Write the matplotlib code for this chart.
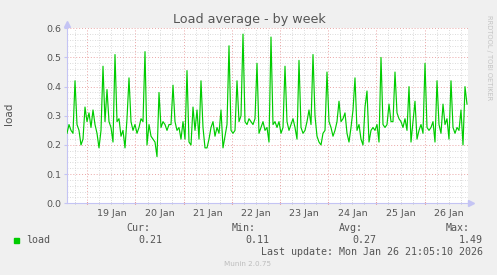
import matplotlib
matplotlib.use("Agg")
import matplotlib.pyplot as plt
import matplotlib.dates as mdates
import numpy as np
from datetime import datetime, timedelta

# ---- data (hourly load average) ----
load = [
    0.24, 0.27, 0.25, 0.24, 0.42, 0.27, 0.25, 0.20, 0.22, 0.33,
    0.28, 0.31, 0.26, 0.32, 0.27, 0.24, 0.19, 0.25, 0.47, 0.28,
    0.39, 0.28, 0.26, 0.21, 0.51, 0.28, 0.29, 0.23, 0.25,
    0.19, 0.29, 0.43, 0.28, 0.25, 0.27, 0.24, 0.26, 0.29, 0.28,
    0.52, 0.20, 0.27, 0.23, 0.22, 0.21, 0.16, 0.38, 0.26, 0.28,
    0.27, 0.25, 0.27, 0.27, 0.405, 0.28, 0.25, 0.26, 0.22,
    0.28, 0.22, 0.455, 0.21, 0.20, 0.33, 0.25, 0.32, 0.22, 0.42,
    0.26, 0.19, 0.19, 0.22, 0.26, 0.28, 0.23, 0.26, 0.24, 0.32,
    0.19, 0.23, 0.27, 0.54, 0.25, 0.24, 0.25, 0.42, 0.28,
    0.30, 0.58, 0.28, 0.27, 0.29, 0.28, 0.27, 0.29, 0.48, 0.24,
    0.26, 0.28, 0.25, 0.26, 0.21, 0.57, 0.27, 0.28, 0.26, 0.28,
    0.24, 0.26, 0.47, 0.28, 0.25, 0.27, 0.29, 0.26, 0.22,
    0.49, 0.26, 0.24, 0.25, 0.28, 0.32, 0.27, 0.51, 0.30, 0.23,
    0.21, 0.20, 0.24, 0.25, 0.45, 0.28, 0.26, 0.23, 0.25, 0.28,
    0.35, 0.28, 0.29, 0.31, 0.24, 0.21, 0.26, 0.32, 0.43,
    0.25, 0.27, 0.22, 0.20, 0.33, 0.385, 0.21, 0.25, 0.26, 0.25,
    0.27, 0.21, 0.50, 0.27, 0.26, 0.27, 0.34, 0.28, 0.28, 0.45,
    0.31, 0.29, 0.28, 0.26, 0.29, 0.25, 0.40, 0.21, 0.28,
    0.35, 0.22, 0.25, 0.27, 0.24, 0.48, 0.26, 0.25, 0.26, 0.28,
    0.21, 0.42, 0.27, 0.24, 0.34, 0.27, 0.29, 0.22, 0.42, 0.26,
    0.24, 0.26, 0.25, 0.32, 0.20, 0.40, 0.34,
]
day_labels = ["19 Jan", "20 Jan", "21 Jan", "22 Jan", "23 Jan", "24 Jan", "25 Jan", "26 Jan"]
legend_stats = {"Cur:": "0.21", "Min:": "0.11", "Avg:": "0.27", "Max:": "1.49"}
series_name = "load"
title = "Load average - by week"
ylabel = "load"
last_update = "Last update: Mon Jan 26 21:05:10 2026"

start = datetime(2026, 1, 18, 13, 54)
step = timedelta(minutes=59.76)
times = [start + step * i for i in range(len(load))]
end = start + timedelta(minutes=29.88 * 401)

# ---- figure ----
W, H = 497, 275
fig = plt.figure(figsize=(W / 100, H / 100), dpi=100, facecolor="#f0f0f0")
ax = fig.add_axes([67 / W, 1 - 203.3 / H, 401 / W, (203.3 - 28.3) / H])
ax.set_facecolor("white")

major_c = "#eaa6a6"
minor_c = "#cfcfcf"
axis_c = "#c4c4f4"
txt_c = "#555555"

ax.set_ylim(0, 0.6)
ax.set_xlim(start, end)
ax.set_yticks(np.arange(0, 0.61, 0.1))
ax.set_yticks(np.arange(0, 0.61, 0.02), minor=True)
ax.set_yticklabels([f"{v:.1f}" for v in np.arange(0, 0.61, 0.1)])
ax.xaxis.set_major_locator(mdates.DayLocator())
ax.xaxis.set_minor_locator(mdates.HourLocator(byhour=[6, 12, 18]))
ax.xaxis.set_major_formatter(plt.NullFormatter())

ax.grid(which="minor", color=minor_c, linestyle=(0, (1, 2)), lw=0.6)
ax.grid(which="major", color=major_c, linestyle=(0, (1, 2)), lw=0.7)
ax.set_axisbelow(True)

ax.plot(times, load, color="#00cc00", lw=0.85, zorder=3)

for s in ["top", "right"]:
    ax.spines[s].set_visible(False)
for s in ["left", "bottom"]:
    ax.spines[s].set_color(axis_c)
    ax.spines[s].set_linewidth(0.8)

ax.tick_params(axis="y", which="major", length=2, color=axis_c, labelsize=6.8,
               labelcolor=txt_c, pad=2)
ax.tick_params(axis="y", which="minor", length=0)
ax.tick_params(axis="x", which="major", length=2, color="#e06060", direction="inout")
ax.tick_params(axis="x", which="minor", length=2, color="#bbbbbb", direction="inout")

# arrows at axis ends
ax.plot([0], [1.025], marker="^", color=axis_c, ms=4, transform=ax.transAxes, clip_on=False)
ax.plot([1.007], [0], marker=">", color=axis_c, ms=4, transform=ax.transAxes, clip_on=False)

# day labels centred at noon
for k, lab in enumerate(day_labels):
    t = datetime(2026, 1, 19 + k, 12, 0)
    ax.text(mdates.date2num(t), -0.032, lab, ha="center", va="top", fontsize=6.8,
            color=txt_c, transform=ax.get_xaxis_transform())

fig.text(249 / W, 1 - 19 / H, title, ha="center", va="center", fontsize=9.2, color=txt_c)
fig.text(9 / W, 1 - 114 / H, ylabel, ha="center", va="center", rotation=90,
         fontsize=7.5, color=txt_c)
fig.text(489 / W, 1 - 58 / H, "RRDTOOL / TOBI OETIKER", ha="center", va="center",
         rotation=270, fontsize=4.8, color="#c4c4c4")

mono = "DejaVu Sans Mono"
fs = 7.2
col_right_hdr = [150, 256, 363, 470]
col_right_val = [162, 269, 376, 483]
for (hdr, val), xr_h, xr_v in zip(legend_stats.items(), col_right_hdr, col_right_val):
    fig.text(xr_h / W, 1 - 228 / H, hdr, ha="right", va="center", family=mono,
             fontsize=fs, color=txt_c)
    fig.text(xr_v / W, 1 - 240 / H, val, ha="right", va="center", family=mono,
             fontsize=fs, color=txt_c)
fig.patches.append(plt.Rectangle((14 / W, 1 - 242.5 / H), 5 / W, 5 / H,
                                 transform=fig.transFigure, color="#00cc00"))
fig.text(26 / W, 1 - 240 / H, series_name, ha="left", va="center", family=mono,
         fontsize=fs, color=txt_c)
fig.text(483 / W, 1 - 252 / H, last_update, ha="right", va="center", family=mono,
         fontsize=fs, color=txt_c)
fig.text(248 / W, 1 - 264 / H, "Munin 2.0.75", ha="center", va="center",
         fontsize=5.2, color="#bdbdbd")

fig.savefig("out.png", dpi=100, facecolor=fig.get_facecolor())
